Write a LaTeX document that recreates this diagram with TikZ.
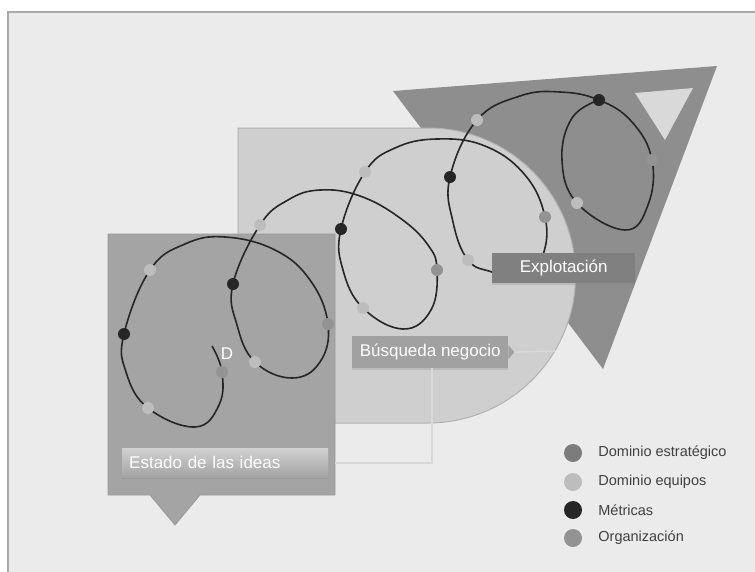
\documentclass[tikz,border=0pt]{standalone}
\usepackage{fontspec}
\setmainfont{Liberation Sans}
\usetikzlibrary{positioning,shadows}
\definecolor{fondo}{HTML}{EBEBEB}
\definecolor{marco}{HTML}{A9A9A9}
\definecolor{ideas}{HTML}{A4A4A4}
\definecolor{negocio}{HTML}{CFCFCF}
\definecolor{explot}{HTML}{8E8E8E}
\definecolor{estrat}{HTML}{7C7C7C}
\definecolor{equipos}{HTML}{BDBDBD}
\definecolor{metricas}{HTML}{262626}
\definecolor{organiz}{HTML}{939393}
\definecolor{guia}{HTML}{D9D9D9}
\begin{document}
\begin{tikzpicture}[x=1pt,y=-1pt,
    boton/.style={rectangle, text=white, inner sep=0pt, font=\fontsize{17}{20}\selectfont,
      drop shadow={opacity=0.25, shadow xshift=0pt, shadow yshift=-2pt}},
    legdot/.style={circle, inner sep=0pt, minimum size=18pt},
    legtxt/.style={text=black!75, inner sep=0pt, font=\fontsize{14.5}{17}\selectfont}]
\useasboundingbox (0,0) rectangle (755,571);
\fill[white] (0,0) rectangle (755,571);
\draw[marco, line width=2pt, fill=fondo] (8,12) rectangle (765,585);
% fases
\fill[explot] (393,91) -- (717,66) -- (603,369) -- cycle;
\fill[black!15] (635,93) -- (693,88) -- (665,140) -- cycle;
\filldraw[fill=negocio, draw=black!30, line width=1pt] (238,128) -- (428,128)
    arc[start angle=-90, end angle=90, radius=147.5] -- (238,423) -- cycle;
\filldraw[fill=ideas, draw=black!40, line width=0.8pt] (108,234) -- (335,234) -- (335,495)
    -- (200,495) -- (175,525) -- (150,495) -- (108,495) -- cycle;
% espiral
\draw[black!85, line width=1.6pt] plot[smooth, tension=0.7] coordinates {
    (212,346) (222,372) (219,405) (195,427) (148,408) (126,372) (124,334)
    (150,270) (185,244) (225,237) (275,250) (310,280) (328,324) (320,362) (292,378)
    (255,362) (237,325) (233,284) (260,225) (288,200) (320,190) (360,196) (400,218)
    (428,245) (437,270) (431,310) (403,329) (363,308) (343,270) (341,229) (365,172) (395,148)
    (437,139) (485,146) (525,175) (545,217) (543,255) (525,280) (492,272) (468,260)
    (453,222) (450,177) (477,120) (520,96) (560,92) (599,100) (632,122) (652,160)
    (648,205) (625,230) (577,203) (562,160) (572,118) (599,100)};
\foreach \p in {(222,372),(328,324),(437,270),(545,217),(652,160)}
    \fill[organiz] \p circle[radius=6];
\foreach \p in {(148,408),(150,270),(255,362),(260,225),(363,308),(365,172),(468,260),(477,120),(577,203)}
    \fill[equipos] \p circle[radius=6];
\foreach \p in {(124,334),(233,284),(341,229),(450,177),(599,100)}
    \fill[metricas] \p circle[radius=6];
\node[text=white, inner sep=0pt, font=\fontsize{17}{19}\selectfont] (d) at (227,354) {D};
% etiquetas
\node[boton, top color=black!18, bottom color=black!36, minimum width=206pt, minimum height=29pt,
    text width=192pt, align=left, anchor=north west] (estado) at (122,448) {Estado de las ideas};
\node[boton, fill=black!37, minimum width=156pt, minimum height=32pt, anchor=north west]
    (busqueda) at (352,336) {Búsqueda negocio};
\fill[black!37] (busqueda.east) ++(0,-7) -- ++(6,7) -- ++(-6,7) -- cycle;
\node[boton, fill=black!50, minimum width=143pt, minimum height=30pt, anchor=north west]
    (explotacion) at (492,253) {Explotación};
\coordinate (g1) at (555,351);
\coordinate (g2) at (432,463);
\coordinate (g3) at (335,463);
\draw[guia, line width=1.2pt] (busqueda.east) ++(6,0) -- (g1);
\draw[guia, line width=1.2pt] (busqueda.south -| g2) -- (g2) -- (g3);
% leyenda
\node[legdot, fill=estrat] (le) at (573,453) {};
\node[legtxt, right=16pt of le] (te) {Dominio estratégico};
\node[legdot, fill=equipos] (lq) at (573,482) {};
\node[legtxt, right=16pt of lq] (tq) {Dominio equipos};
\node[legdot, fill=metricas] (lm) at (573,510) {};
\node[legtxt, right=16pt of lm] (tm) {Métricas};
\node[legdot, fill=organiz] (lo) at (573,538) {};
\node[legtxt, right=16pt of lo] (to) {Organización};
\end{tikzpicture}
\end{document}
